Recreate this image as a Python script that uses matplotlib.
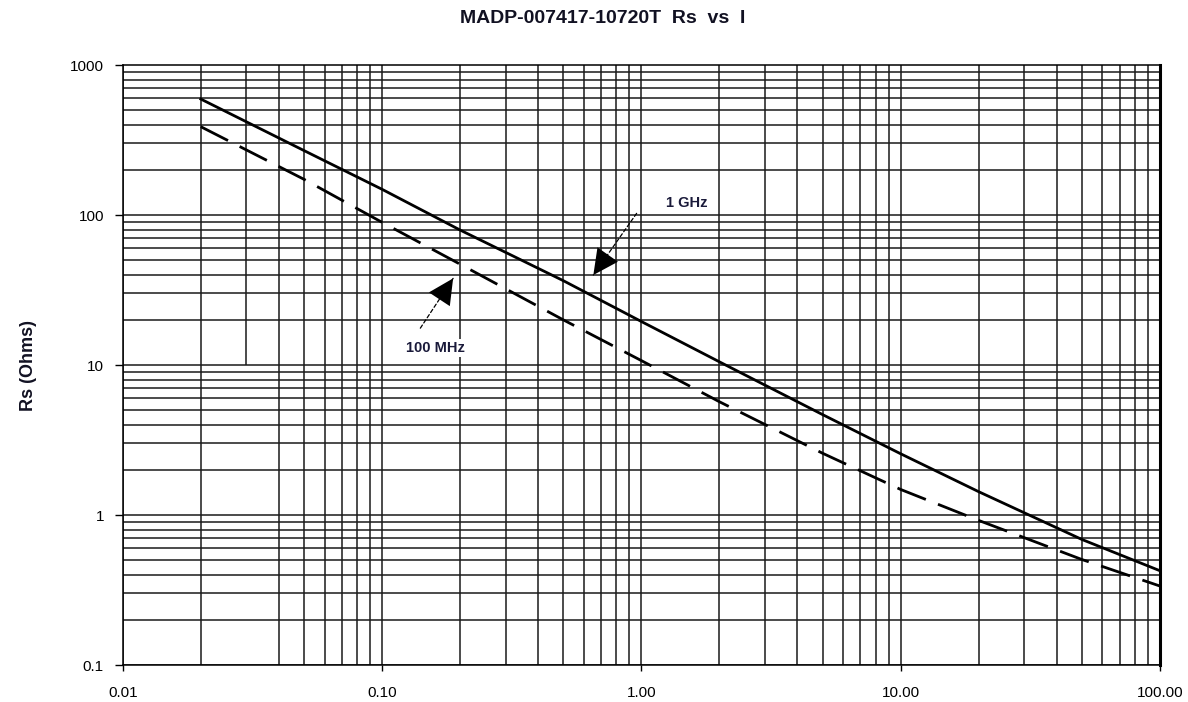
#!/usr/bin/env python3
"""MADP-007417-10720T series resistance vs bias current (log-log)."""
import matplotlib
matplotlib.use("Agg")
import matplotlib.pyplot as plt

plt.rcParams["font.family"] = ["Liberation Sans", "DejaVu Sans"]

# bias current (mA) and series resistance (Ohms)
CURRENT = [0.02, 0.05, 0.1, 0.2, 0.5, 1.0, 2.0, 5.0, 10.0, 20.0, 50.0, 100.0]
RS_1GHZ = [593, 269, 148.4, 79.4, 36.5, 19.5, 10.5, 4.67, 2.56, 1.43, 0.687, 0.425]
RS_100MHZ = [388, 173, 89.4, 47.0, 20.0, 10.7, 5.69, 2.58, 1.48, 0.92, 0.505, 0.336]

X_TICKS = [0.01, 0.1, 1, 10, 100]
X_LABELS = ["0.01", "0.10", "1.00", "10.00", "100.00"]
Y_TICKS = [0.1, 1, 10, 100, 1000]
Y_LABELS = ["0.1", "1", "10", "100", "1000"]

TITLE = "MADP-007417-10720T  Rs  vs  I"
YLABEL = "Rs (Ohms)"

GRID_KW = dict(color="#1a1a1a", linewidth=1.1, zorder=1)


def draw_grid(ax):
    decades = [0.01, 0.1, 1, 10]
    for d in decades:
        for m in range(1, 10):
            x = m * d
            # the 0.03 line only runs through the upper half in the original
            lo = 10 if abs(x - 0.03) < 1e-9 else 0.1
            ax.vlines(x, lo, 1000, **GRID_KW)
            ax.hlines(m * d * 10, 0.01, 100, **GRID_KW)


def main():
    fig = plt.figure(figsize=(11.88, 7.02), dpi=100)
    ax = fig.add_axes([0.1033, 0.0527, 0.8731, 0.8547])
    ax.set_xscale("log")
    ax.set_yscale("log")
    ax.set_xlim(0.01, 100)
    ax.set_ylim(0.1, 1000)

    draw_grid(ax)

    ax.plot(CURRENT, RS_1GHZ, color="black", linewidth=2.0, zorder=3)
    dashed, = ax.plot(CURRENT, RS_100MHZ, color="black", linewidth=2.0, zorder=3)
    dashed.set_dashes([11, 4.7])

    # labels with leader arrows
    ax.text(1.494, 120.2, "1 GHz", ha="center", va="center", fontsize=10.5,
            fontweight="bold", color="#1a1a3a", zorder=4,
            bbox=dict(facecolor="white", edgecolor="none", pad=1.5))
    ax.text(0.160, 12.9, "100 MHz", ha="center", va="center", fontsize=10.5,
            fontweight="bold", color="#1a1a3a", zorder=4,
            bbox=dict(facecolor="white", edgecolor="none", pad=1.5))

    for tail, tip in [((0.959, 102.6), (0.653, 39.8)), ((0.1405, 17.6), (0.188, 37.8))]:
        ax.annotate("", xy=tip, xytext=tail,
                    arrowprops=dict(arrowstyle="-", linestyle=(0, (3, 2)),
                                    lw=0.9, color="black", shrinkA=0, shrinkB=0),
                    zorder=4)
        ax.annotate("", xy=tip, xytext=tail,
                    arrowprops=dict(arrowstyle="-|>,head_length=0.9,head_width=0.45",
                                    lw=0, color="black", shrinkA=0, shrinkB=0,
                                    mutation_scale=20),
                    zorder=4)

    ax.set_xticks(X_TICKS)
    ax.set_xticklabels(X_LABELS)
    ax.set_yticks(Y_TICKS)
    ax.set_yticklabels(Y_LABELS)
    ax.minorticks_off()
    ax.tick_params(axis="x", length=4, width=1, pad=11, labelsize=11, colors="black")
    ax.tick_params(axis="y", length=5.5, width=1, pad=8, labelsize=11, colors="black")

    for side in ["left", "bottom", "top"]:
        ax.spines[side].set_linewidth(1.1)
    ax.spines["right"].set_linewidth(2.2)

    fig.text(0.507, 0.974, TITLE, ha="center", va="center", fontsize=14,
             fontweight="bold", color="#111122")
    fig.text(0.024, 0.48, YLABEL, ha="center", va="center", rotation=90,
             fontsize=13, fontweight="bold", color="#111122")

    fig.savefig("out.png", dpi=100)
    plt.close(fig)


if __name__ == "__main__":
    main()
